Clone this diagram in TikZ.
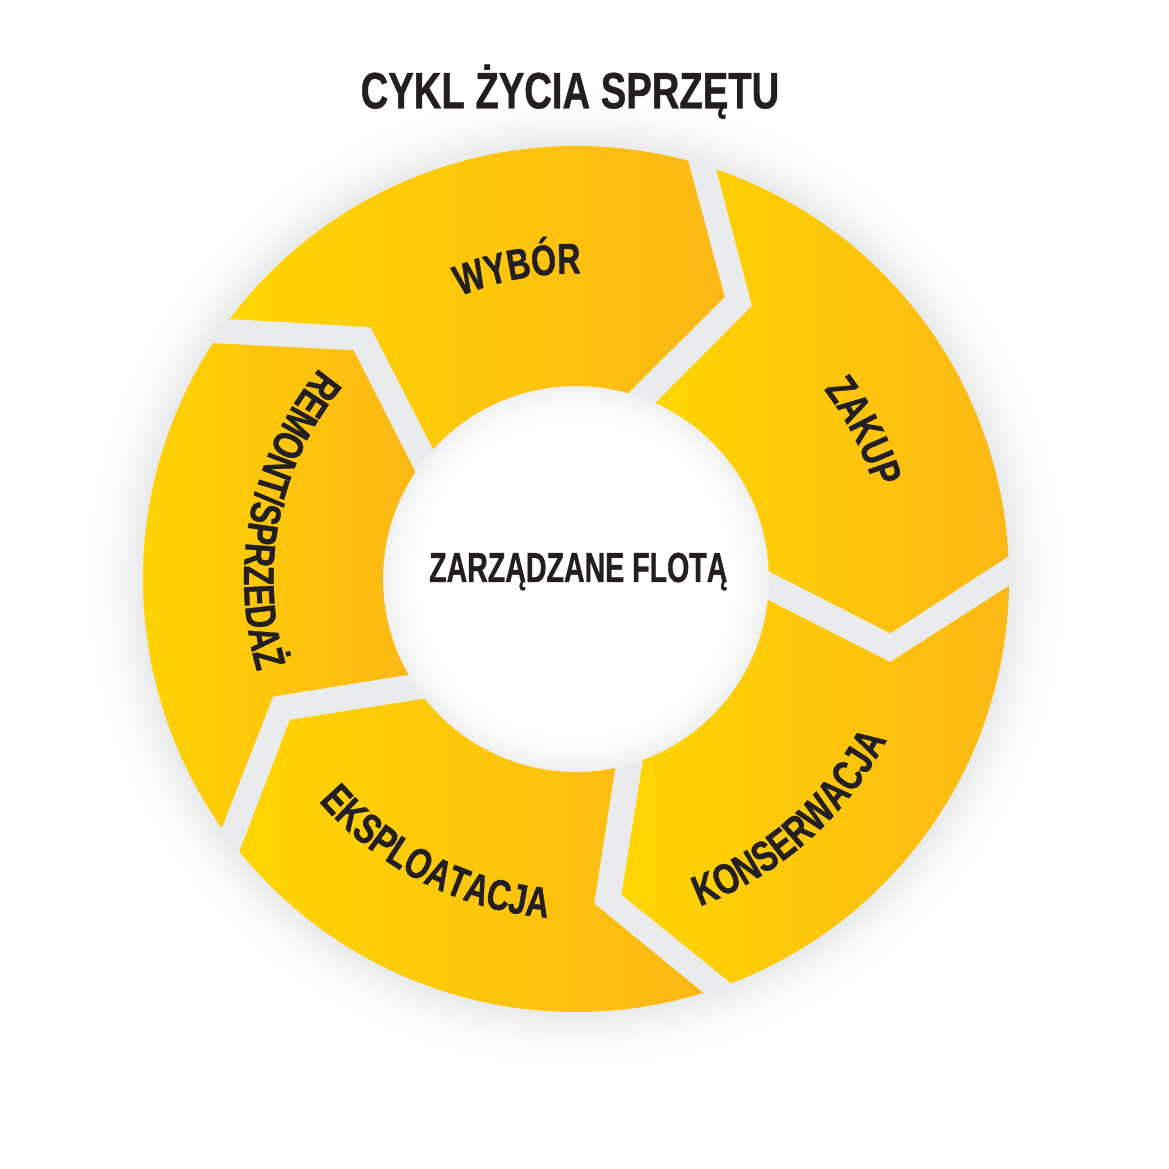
\documentclass[tikz,border=0pt]{standalone}
\usepackage{fontspec}
\usetikzlibrary{decorations.text}
\newfontfamily\titlefam[FakeStretch=0.75,FakeBold=0.8]{Liberation Sans}
\newfontfamily\hubfam[FakeStretch=0.68,FakeBold=0.8]{Liberation Sans}
\newfontfamily\labfam[FakeStretch=0.75,FakeBold=0.8]{Liberation Sans}
\newcommand\titlefont{\titlefam\bfseries\fontsize{51}{51}\selectfont}
\newcommand\hubfont{\hubfam\bfseries\fontsize{42}{42}\selectfont}
\newcommand\labfont{\labfam\bfseries\fontsize{43}{43}\selectfont}
\definecolor{txt}{HTML}{231F20}
\definecolor{yel}{HTML}{FFD600}
\definecolor{org}{HTML}{FCB815}
\definecolor{gapgray}{HTML}{EAEBEC}
\begin{document}
\begin{tikzpicture}[x=1pt,y=1pt,
  seg/.style={left color=yel, right color=org, draw=none},
  lab/.style={decorate, decoration={text along path, text align=center, text color=txt}}]
\useasboundingbox (-576,-590) rectangle (593,579);
\fill[white] (-576,-590) rectangle (593,579);
% soft outer glow: concentric discs from light to gray
\foreach \k in {0,...,19}{
  \pgfmathsetmacro\rr{493-3*\k}
  \pgfmathsetmacro\pp{100*((\k+1)/20)^2}
  \fill[gapgray!\pp!white] (0,0) circle[radius=\rr];
}
\fill[gapgray] (0,0) circle[radius=433];
% soft inner glow inside the hub
\foreach \k in {0,...,14}{
  \pgfmathsetmacro\rr{194-3*\k}
  \pgfmathsetmacro\pp{85*(1-(\k+1)/15)^2}
  \fill[gapgray!\pp!white] (0,0) circle[radius=\rr];
}
\foreach \i in {0,...,4}{
  \pgfmathsetmacro\To{145-72*\i-1.9}
  \pgfmathsetmacro\Tm{145-72*\i-15.8}
  \pgfmathsetmacro\Ti{145-72*\i-7.25}
  \pgfmathsetmacro\Ho{73-72*\i+2.0}
  \pgfmathsetmacro\Hm{73-72*\i-10.8}
  \pgfmathsetmacro\Hi{73-72*\i+1.3}
  \shade[seg] (\To:433) -- (\Tm:325) -- (\Ti:193)
     arc[start angle=\Ti, end angle=\Hi, radius=193]
     -- (\Hm:319) -- (\Ho:433)
     arc[start angle=\Ho, end angle=\To, radius=433] -- cycle;
}
% labels along the ring
\path[lab, decoration={text={|\labfont|WYBÓR}}]
  (140.7:305.5) arc[start angle=140.7, end angle=60.7, radius=305.5];
\path[lab, decoration={text={|\labfont|ZAKUP}}]
  (67.2:312) arc[start angle=67.2, end angle=-12.8, radius=312];
\path[lab, decoration={text={|\labfont|KONSERWACJA}}]
  (261.7:350) arc[start angle=261.7, end angle=361.7, radius=350];
\path[lab, decoration={text={|\labfont|EKSPLOATACJA}}]
  (193:340) arc[start angle=193, end angle=293, radius=340];
\path[lab, decoration={text={|\labfont|REMONT/SPRZEDAŻ}}]
  (118.4:332) arc[start angle=118.4, end angle=218.4, radius=332];
% title and hub
\node[anchor=base, inner sep=0, text=txt, font=\titlefont] (title) at (-6,470.7) {CYKL ŻYCIA SPRZĘTU};
\node[anchor=base, inner sep=0, text=txt, font=\hubfont] (hub) at (2.3,-3) {ZARZĄDZANE FLOTĄ};
\end{tikzpicture}
\end{document}
